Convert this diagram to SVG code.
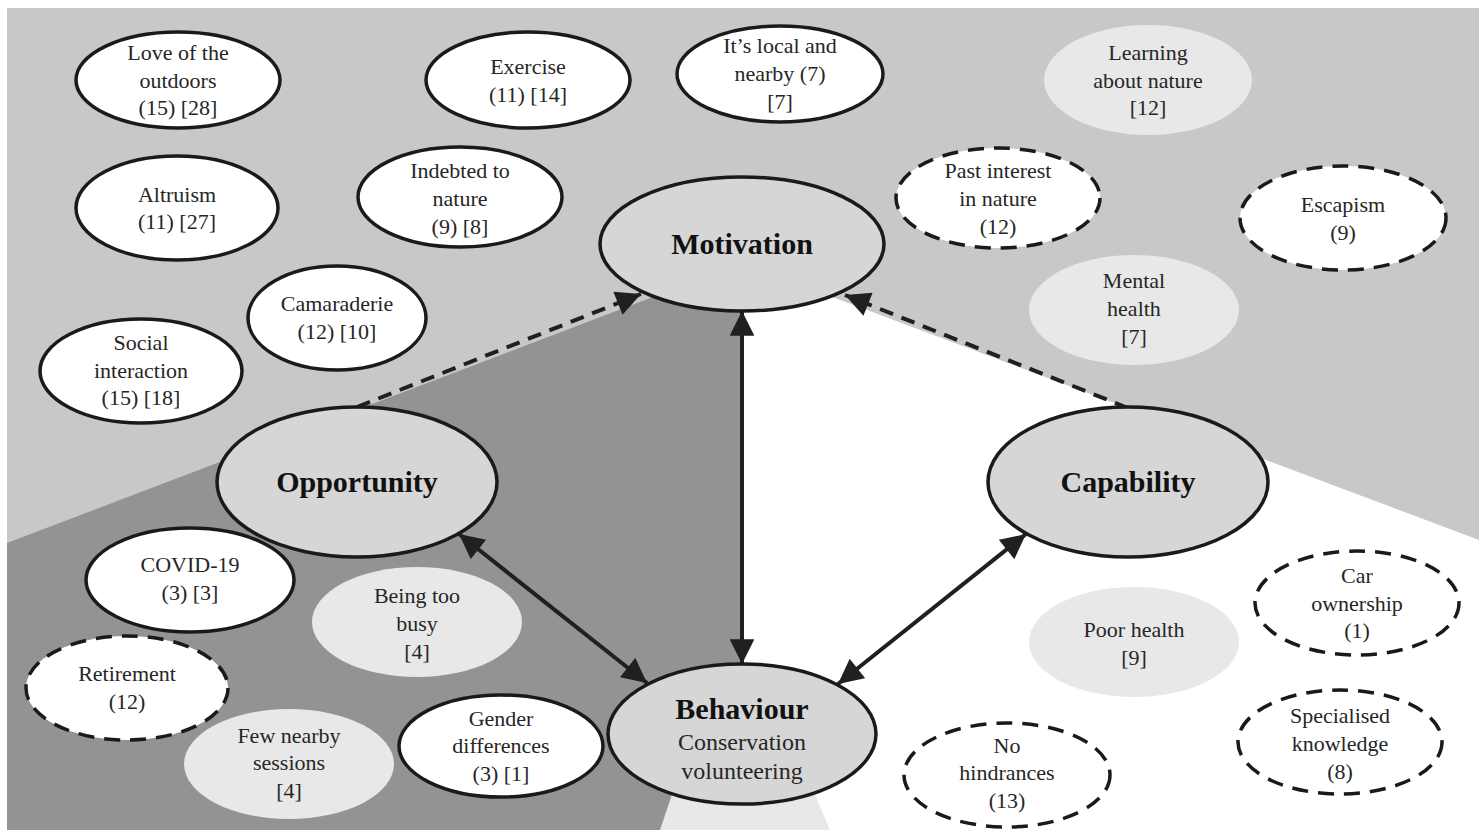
<svg xmlns="http://www.w3.org/2000/svg" width="1484" height="830" viewBox="0 0 1484 830">
<defs>
<marker id="ah" viewBox="0 0 10 10" refX="10" refY="5" markerWidth="6.5" markerHeight="6.2" orient="auto-start-reverse" markerUnits="strokeWidth">
<path d="M0,0 L10,5 L0,10 z" fill="#202020"/>
</marker>
<style>
.sol{fill:#ffffff;stroke:#1a1a1a;stroke-width:3.5}
.dsh{fill:#ffffff;stroke:#1a1a1a;stroke-width:3.5;stroke-dasharray:16 10}
.lit{fill:#e8e8e8;stroke:none}
.core{fill:#d6d6d6;stroke:#1a1a1a;stroke-width:3.5}
.t{font-family:"Liberation Serif","Times New Roman",serif;font-size:22px;fill:#262626;text-anchor:middle}
.b{font-family:"Liberation Serif","Times New Roman",serif;font-size:30px;font-weight:bold;fill:#111111;text-anchor:middle}
.s{font-family:"Liberation Serif","Times New Roman",serif;font-size:24px;fill:#262626;text-anchor:middle}
.c{fill:none;stroke:#202020;stroke-width:4}
.cd{fill:none;stroke:#202020;stroke-width:4;stroke-dasharray:14 9}
</style>
</defs>
<rect x="0" y="0" width="1484" height="830" fill="#ffffff"/>
<g id="background">
<rect x="7" y="8" width="1472" height="822" fill="#c8c8c8"/>
<polygon points="742,263 1479,540 1479,830 742,830" fill="#ffffff"/>
<polygon points="742,263 7,543 7,830 742,830" fill="#939393"/>
<polygon points="693,732 788,732 830,830 660,830" fill="#e8e8e8"/>
</g>
<g id="connectors">
<line class="cd" x1="357" y1="407" x2="641" y2="294" marker-end="url(#ah)"/>
<line class="cd" x1="1128" y1="408" x2="845" y2="295" marker-end="url(#ah)"/>
<line class="c" x1="742" y1="311" x2="742" y2="664" marker-start="url(#ah)" marker-end="url(#ah)"/>
<line class="c" x1="459" y1="534" x2="647" y2="683" marker-start="url(#ah)" marker-end="url(#ah)"/>
<line class="c" x1="1026" y1="534" x2="838" y2="684" marker-start="url(#ah)" marker-end="url(#ah)"/>
</g>
<g id="n-love"><ellipse class="sol" cx="178" cy="80" rx="102" ry="48"/><text class="t"><tspan x="178" y="60">Love of the</tspan><tspan x="178" y="88">outdoors</tspan><tspan x="178" y="115">(15) [28]</tspan></text></g>
<g id="n-exercise"><ellipse class="sol" cx="528" cy="80" rx="102" ry="48"/><text class="t"><tspan x="528" y="74">Exercise</tspan><tspan x="528" y="102">(11) [14]</tspan></text></g>
<g id="n-local"><ellipse class="sol" cx="780" cy="74" rx="103" ry="48"/><text class="t"><tspan x="780" y="53">It’s local and</tspan><tspan x="780" y="81">nearby (7)</tspan><tspan x="780" y="109">[7]</tspan></text></g>
<g id="n-altruism"><ellipse class="sol" cx="177" cy="208" rx="101" ry="52"/><text class="t"><tspan x="177" y="202">Altruism</tspan><tspan x="177" y="229">(11) [27]</tspan></text></g>
<g id="n-indebted"><ellipse class="sol" cx="460" cy="197" rx="102" ry="50"/><text class="t"><tspan x="460" y="178">Indebted to</tspan><tspan x="460" y="206">nature</tspan><tspan x="460" y="234">(9) [8]</tspan></text></g>
<g id="n-camaraderie"><ellipse class="sol" cx="337" cy="318" rx="89" ry="52"/><text class="t"><tspan x="337" y="311">Camaraderie</tspan><tspan x="337" y="339">(12) [10]</tspan></text></g>
<g id="n-social"><ellipse class="sol" cx="141" cy="371" rx="101" ry="52"/><text class="t"><tspan x="141" y="350">Social</tspan><tspan x="141" y="378">interaction</tspan><tspan x="141" y="405">(15) [18]</tspan></text></g>
<g id="n-learning"><ellipse class="lit" cx="1148" cy="80" rx="104" ry="55"/><text class="t"><tspan x="1148" y="60">Learning</tspan><tspan x="1148" y="88">about nature</tspan><tspan x="1148" y="115">[12]</tspan></text></g>
<g id="n-past"><ellipse class="dsh" cx="998" cy="198" rx="102" ry="50"/><text class="t"><tspan x="998" y="178">Past interest</tspan><tspan x="998" y="206">in nature</tspan><tspan x="998" y="234">(12)</tspan></text></g>
<g id="n-escapism"><ellipse class="dsh" cx="1343" cy="218" rx="103" ry="52"/><text class="t"><tspan x="1343" y="212">Escapism</tspan><tspan x="1343" y="240">(9)</tspan></text></g>
<g id="n-mental"><ellipse class="lit" cx="1134" cy="310" rx="105" ry="55"/><text class="t"><tspan x="1134" y="288">Mental</tspan><tspan x="1134" y="316">health</tspan><tspan x="1134" y="344">[7]</tspan></text></g>
<g id="n-covid"><ellipse class="sol" cx="190" cy="580" rx="104" ry="52"/><text class="t"><tspan x="190" y="572">COVID-19</tspan><tspan x="190" y="600">(3) [3]</tspan></text></g>
<g id="n-busy"><ellipse class="lit" cx="417" cy="622" rx="105" ry="55"/><text class="t"><tspan x="417" y="603">Being too</tspan><tspan x="417" y="631">busy</tspan><tspan x="417" y="659">[4]</tspan></text></g>
<g id="n-retirement"><ellipse class="dsh" cx="127" cy="688" rx="101" ry="52"/><text class="t"><tspan x="127" y="681">Retirement</tspan><tspan x="127" y="709">(12)</tspan></text></g>
<g id="n-few"><ellipse class="lit" cx="289" cy="764" rx="105" ry="55"/><text class="t"><tspan x="289" y="743">Few nearby</tspan><tspan x="289" y="770">sessions</tspan><tspan x="289" y="798">[4]</tspan></text></g>
<g id="n-gender"><ellipse class="sol" cx="501" cy="746" rx="102" ry="51"/><text class="t"><tspan x="501" y="726">Gender</tspan><tspan x="501" y="753">differences</tspan><tspan x="501" y="781">(3) [1]</tspan></text></g>
<g id="n-poor"><ellipse class="lit" cx="1134" cy="642" rx="105" ry="55"/><text class="t"><tspan x="1134" y="637">Poor health</tspan><tspan x="1134" y="665">[9]</tspan></text></g>
<g id="n-car"><ellipse class="dsh" cx="1357" cy="603" rx="102" ry="52"/><text class="t"><tspan x="1357" y="583">Car</tspan><tspan x="1357" y="611">ownership</tspan><tspan x="1357" y="638">(1)</tspan></text></g>
<g id="n-special"><ellipse class="dsh" cx="1340" cy="742" rx="102" ry="52"/><text class="t"><tspan x="1340" y="723">Specialised</tspan><tspan x="1340" y="751">knowledge</tspan><tspan x="1340" y="779">(8)</tspan></text></g>
<g id="n-nohind"><ellipse class="dsh" cx="1007" cy="775" rx="103" ry="52"/><text class="t"><tspan x="1007" y="753">No</tspan><tspan x="1007" y="780">hindrances</tspan><tspan x="1007" y="808">(13)</tspan></text></g>
<g id="n-motivation"><ellipse class="core" cx="742" cy="244" rx="142" ry="67"/><text class="b" x="742" y="254">Motivation</text></g>
<g id="n-opportunity"><ellipse class="core" cx="357" cy="482" rx="140" ry="75"/><text class="b" x="357" y="492">Opportunity</text></g>
<g id="n-capability"><ellipse class="core" cx="1128" cy="482" rx="140" ry="75"/><text class="b" x="1128" y="492">Capability</text></g>
<g id="n-behaviour"><ellipse class="core" cx="742" cy="734" rx="134" ry="70"/><text class="b" x="742" y="719">Behaviour</text><text class="s"><tspan x="742" y="750">Conservation</tspan><tspan x="742" y="779">volunteering</tspan></text></g>
</svg>
